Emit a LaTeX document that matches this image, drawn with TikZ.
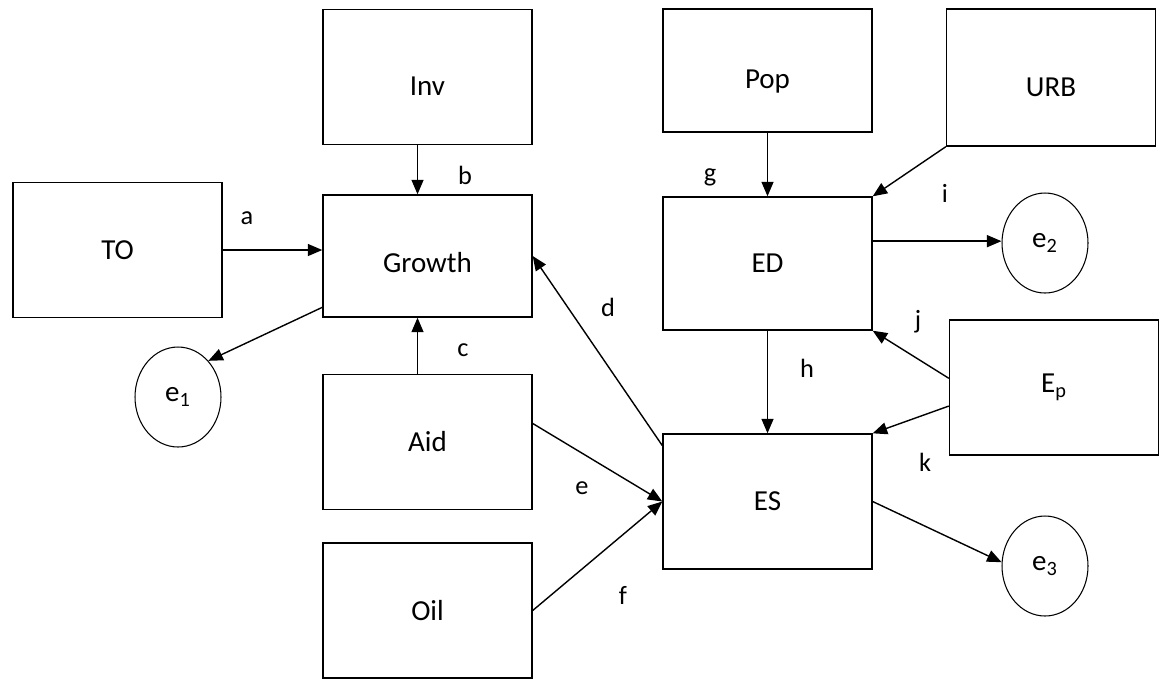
\documentclass[tikz,border=0pt]{standalone}
\usepackage{fontspec}
\setmainfont{Carlito}
\usetikzlibrary{arrows.meta,shapes.geometric}

\begin{document}
\begin{tikzpicture}[
    x=0.02cm, y=-0.02cm,
    box/.style={draw=black, line width=0.8pt,
      minimum width=4.18cm, minimum height=2.7cm,
      font=\fontsize{16.5}{19}\selectfont},
    lowtext/.style={text height=#1},
    err/.style={draw=black, ellipse, line width=0.6pt,
      minimum width=1.72cm, minimum height=2cm, inner sep=0pt,
      font=\fontsize{16.5}{19}\selectfont},
    lbl/.style={font=\fontsize{15}{18}\selectfont},
    arrow/.style={-{Triangle[length=2.9mm,width=2.4mm]}, line width=0.8pt}
  ]
    \useasboundingbox (0,0) rectangle (1166,681);
    % boxes
    \node[box] (to) at (117.5,250) {TO};
    \node[box, lowtext=0.75cm] (inv) at (427.5,77) {Inv};
    \node[box, minimum height=2.44cm, lowtext=0.65cm] (growth) at (427.5,256) {Growth};
    \node[box] (aid) at (427.5,442) {Aid};
    \node[box] (oil) at (427.5,610.5) {Oil};
    \node[box, minimum height=2.46cm, lowtext=0.8cm] (pop) at (767.5,70.5) {Pop};
    \node[box, minimum height=2.74cm, lowtext=0.75cm] (urb) at (1051,77.5) {URB};
    \node[box, minimum height=2.66cm] (ed) at (767.5,263.5) {ED};
    \node[box] (es) at (767.5,501.5) {ES};
    \node[box] (ep) at (1054,387.5) {E\textsubscript{p}};
    % error terms
    \node[err] (e1) at (178,397) {e\textsubscript{1}};
    \node[err] (e2) at (1045,243) {e\textsubscript{2}};
    \node[err] (e3) at (1045,566) {e\textsubscript{3}};
    % path labels
    \node[lbl] (la) at (247,218) {a};
    \node[lbl] (lb) at (465,175) {b};
    \node[lbl] (lc) at (463,350) {c};
    \node[lbl] (ld) at (608,307) {d};
    \node[lbl] (le) at (582,488) {e};
    \node[lbl] (lf) at (623,595) {f};
    \node[lbl] (lg) at (710,177) {g};
    \node[lbl] (lh) at (807,368) {h};
    \node[lbl] (li) at (945,193) {i};
    \node[lbl] (lj) at (918,322) {j};
    \node[lbl] (lk) at (925,462) {k};
    % paths
    \draw[arrow] (to.east) -- (to.east -| growth.west);
    \draw[arrow] ([xshift=-0.2cm]inv.south) -- ([xshift=-0.2cm]growth.north);
    \draw[arrow] ([xshift=-0.2cm]aid.north) -- ([xshift=-0.2cm]growth.south);
    \draw[arrow] (growth.206) -- (e1.50);
    \draw[arrow] (es.152) -- (growth.east);
    \draw[arrow] (aid.10) -- (es.west);
    \draw[arrow] (oil.east) -- (es.west);
    \draw[arrow] (pop.south) -- (ed.north);
    \draw[arrow] (urb.south west) -- (ed.north east);
    \draw[arrow] (ed.12) -- (ed.12 -| e2.west);
    \draw[arrow] (ed.south) -- (es.north);
    \draw[arrow] (ep.175) -- (ed.south east);
    \draw[arrow] (ep.190) -- (es.north east);
    \draw[arrow] (es.east) -- (e3.175);
  \end{tikzpicture}
\end{document}
